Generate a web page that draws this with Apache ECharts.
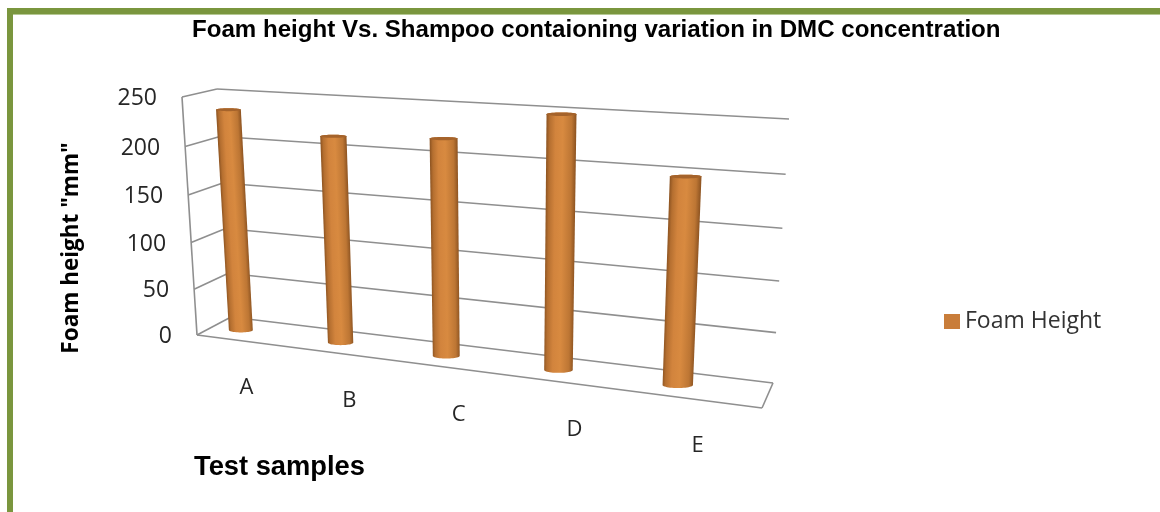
<!DOCTYPE html>
<html><head><meta charset="utf-8">
<style>html,body{margin:0;padding:0;background:#fff}#c{width:1160px;height:512px}</style>
<script src="https://cdn.jsdelivr.net/npm/echarts@6/dist/echarts.min.js"></script>
</head><body><div id="c"></div>
<script>
const categories = ['A','B','C','D','E'];
const foamHeight = [235,215,220,250,200];
const yTicks = [0,50,100,150,200,250];
const seriesName = 'Foam Height';
const titleText = 'Foam height Vs. Shampoo contaioning variation in DMC concentration';

// hidden cartesian grid: its scales feed the perspective projection
const G = {x:200,y:60,w:600,h:300};
function homography(q){
  const [p0,p1,p2,p3]=q;
  const dx1=p1[0]-p2[0],dx2=p3[0]-p2[0],sx=p0[0]-p1[0]+p2[0]-p3[0];
  const dy1=p1[1]-p2[1],dy2=p3[1]-p2[1],sy=p0[1]-p1[1]+p2[1]-p3[1];
  const den=dx1*dy2-dx2*dy1;
  const g=(sx*dy2-dx2*sy)/den,h=(dx1*sy-sx*dy1)/den;
  const a=p1[0]-p0[0]+g*p1[0],b=p3[0]-p0[0]+h*p3[0],c=p0[0];
  const d=p1[1]-p0[1]+g*p1[1],e=p3[1]-p0[1]+h*p3[1],f=p0[1];
  return (u,v)=>{const w=g*u+h*v+1;return [(a*u+b*v+c)/w,(d*u+e*v+f)/w];};
}
// plot box planes: BL, BR, TR, TL
const back = homography([[231,317],[773,383],[789,119],[217,89]]);
const front = homography([[197,335],[762,408],[777,134],[182,97]]);
function P(u,v,d){const b=back(u,v),f=front(u,v);return [b[0]+(f[0]-b[0])*d,b[1]+(f[1]-b[1])*d];}
const vOf = py => (G.y+G.h-py)/G.h;
const uOf = px => (px-G.x)/G.w;
const DEPTH=0.53, SHIFT=0.042, HALF=0.0245, RY_TOP=0.12, RY_BOT=0.2;
const LINE={stroke:'#8f8f8f',lineWidth:1.6};
const line=(a,b)=>({type:'line',shape:{x1:a[0],y1:a[1],x2:b[0],y2:b[1]},style:LINE,silent:true});

function renderWall(params,api){
  const tick=api.value(0);
  const v=vOf(api.coord([0,tick])[1]);
  const lab=P(0,v,1);
  const kids=[line(P(0,v,1),P(0,v,0)),line(P(0,v,0),P(1,v,0)),
    {type:'text',silent:true,style:{text:String(tick),x:lab[0]-25,y:lab[1]+1.5,align:'right',verticalAlign:'middle',
      fontFamily:'Open Sans',fontSize:23,fill:'#262626'}}];
  if(tick===yTicks[0]){
    kids.push(line(P(0,0,1),P(1,0,1)),line(P(1,0,1),P(1,0,0)));
    const top=P(0,vOf(api.coord([0,yTicks[yTicks.length-1]])[1]),1);
    kids.push(line(P(0,0,1),top));
  }
  return {type:'group',children:kids};
}
function ellipsePts(c,rx,ry,a0,a1,n){
  const pts=[];
  for(let i=0;i<=n;i++){const t=a0+(a1-a0)*i/n;
    pts.push([c[0]+Math.cos(t)*rx,c[1]+Math.sin(t)*ry]);}
  return pts;
}
function renderBar(params,api){
  const p=api.coord([api.value(0),api.value(1)]);
  const u=uOf(p[0])-SHIFT,v=vOf(p[1]);
  const c0=P(u,0,DEPTH),c1=P(u,v,DEPTH);
  const halfAt=(vv)=>{const a=P(u-HALF,vv,DEPTH),b=P(u+HALF,vv,DEPTH);return Math.hypot(a[0]-b[0],a[1]-b[1])/2;};
  const r0=halfAt(0),r1=halfAt(v);
  const bottom=ellipsePts(c0,r0,r0*RY_BOT,0,Math.PI,24);
  const top=ellipsePts(c1,r1,r1*RY_TOP,Math.PI,Math.PI*2,24);
  const mid=[(c0[0]+c1[0])/2,(c0[1]+c1[1])/2],r=(r0+r1)/2;
  // shading runs across the cylinder, square to its tilted axis
  const ax=c0[0]-c1[0],ay=c0[1]-c1[1],al=Math.hypot(ax,ay);
  const nx=ay/al,ny=-ax/al;
  const fill={type:'linear',global:true,x:mid[0]-nx*r,y:mid[1]-ny*r,x2:mid[0]+nx*r,y2:mid[1]+ny*r,colorStops:[
    {offset:0,color:'#8f5522'},{offset:.1,color:'#b56f30'},{offset:.3,color:'#d2843d'},
    {offset:.55,color:'#d88a40'},{offset:.85,color:'#bd7634'},{offset:1,color:'#8f5522'}]};
  return {type:'group',children:[
    {type:'polygon',silent:true,shape:{points:[...bottom,...top]},style:{fill}},
    {type:'polygon',silent:true,shape:{points:ellipsePts(c1,r1,r1*RY_TOP,0,Math.PI*2,36)},style:{fill:'#a5632b'}}
  ]};
}
function renderCatLabel(params,api){
  const p=api.coord([api.value(0),0]);
  const q=P(uOf(p[0]),0,1);
  return {type:'text',silent:true,style:{text:categories[api.value(0)],x:q[0],y:q[1]+46,align:'center',verticalAlign:'middle',
    fontFamily:'Open Sans',fontSize:22,fill:'#262626'}};
}
const chart=echarts.init(document.getElementById('c'),null,{renderer:'canvas'});
chart.setOption({
  animation:false,backgroundColor:'#fff',
  title:{text:titleText,left:192,top:18,padding:0,textStyle:{fontFamily:'Liberation Sans',fontWeight:'bold',fontSize:24.1,color:'#000'}},
  legend:{data:[{name:seriesName,icon:'rect',itemStyle:{color:'#c97d3a'}}],left:944,top:310,itemWidth:16,itemHeight:15,itemGap:8,padding:0,
    textStyle:{fontFamily:'Open Sans',fontSize:23,color:'#333'},selectedMode:false},
  grid:{left:G.x,top:G.y,width:G.w,height:G.h},
  xAxis:{type:'category',data:categories,show:false},
  yAxis:{type:'value',min:0,max:250,interval:50,show:false},
  graphic:[
    {type:'rect',shape:{x:7,y:8,width:1153,height:6},style:{fill:'#7a963e'},z:1},
    {type:'rect',shape:{x:7,y:8,width:6,height:504},style:{fill:'#7a963e'},z:1},
    {type:'rect',shape:{x:13,y:14,width:1147,height:1},style:{fill:'#b5c893'},z:1},
    {type:'text',x:72,y:248,rotation:Math.PI/2,style:{text:'Foam height "mm"',align:'center',verticalAlign:'middle',
      fontFamily:'Open Sans',fontWeight:'bold',fontSize:22.5,fill:'#000'}},
    {type:'text',style:{text:'Test samples',x:194,y:467,align:'left',verticalAlign:'middle',
      fontFamily:'Liberation Sans',fontWeight:'bold',fontSize:27.3,fill:'#000'}}
  ],
  series:[
    {type:'custom',name:'walls',silent:true,z:2,clip:false,data:yTicks.map(t=>[t]),encode:{y:0},renderItem:renderWall},
    {type:'custom',name:'labels',silent:true,z:2,clip:false,data:categories.map((c,i)=>[i]),encode:{x:0},renderItem:renderCatLabel},
    {type:'custom',name:seriesName,silent:true,z:3,clip:false,itemStyle:{color:'#c97d3a'},
      data:foamHeight.map((v,i)=>[i,v]),encode:{x:0,y:1},renderItem:renderBar}
  ]
});
</script></body></html>
